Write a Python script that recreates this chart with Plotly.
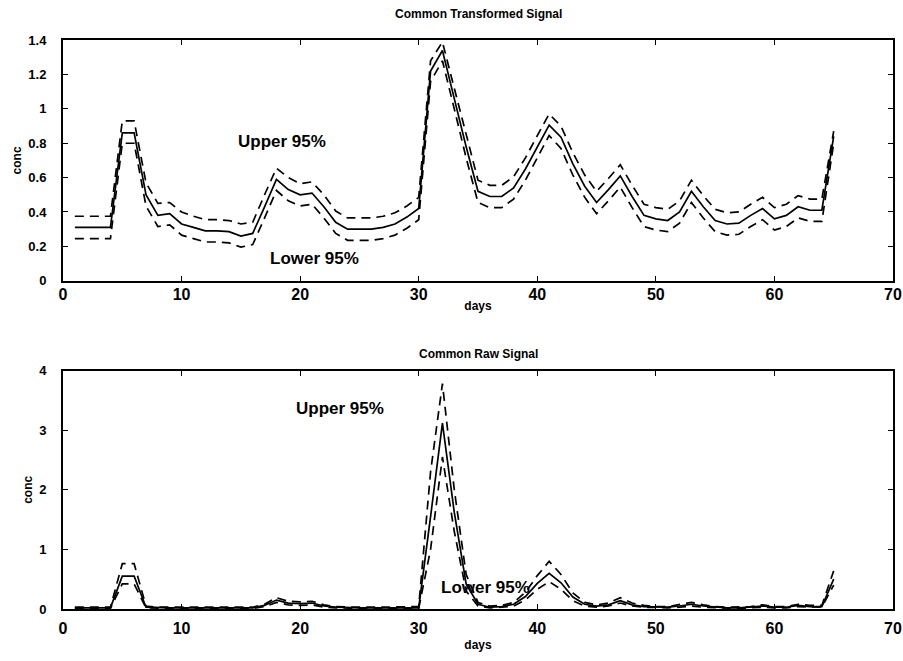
import plotly.graph_objects as go

# Sampling days
days = list(range(1, 66))

# Common transformed signal: estimate and 95% bounds
trans_mid = [0.31, 0.31, 0.31, 0.31, 0.86, 0.86, 0.50, 0.38, 0.39, 0.33,
             0.31, 0.29, 0.29, 0.285, 0.26, 0.275, 0.43, 0.59, 0.53, 0.50,
             0.51, 0.43, 0.34, 0.30, 0.30, 0.30, 0.31, 0.33, 0.37, 0.42,
             1.22, 1.34, 1.06, 0.78, 0.52, 0.49, 0.49, 0.54, 0.65, 0.78,
             0.905, 0.835, 0.68, 0.55, 0.455, 0.53, 0.61, 0.49, 0.38, 0.36,
             0.35, 0.40, 0.52, 0.43, 0.35, 0.33, 0.335, 0.38, 0.42, 0.36,
             0.38, 0.43, 0.41, 0.41, 0.84]
trans_up = [0.375, 0.375, 0.375, 0.375, 0.93, 0.93, 0.57, 0.45, 0.455, 0.40,
            0.375, 0.355, 0.355, 0.35, 0.33, 0.34, 0.50, 0.655, 0.60, 0.565,
            0.575, 0.50, 0.405, 0.365, 0.365, 0.365, 0.375, 0.395, 0.435, 0.485,
            1.28, 1.39, 1.12, 0.845, 0.585, 0.555, 0.555, 0.605, 0.715, 0.845,
            0.97, 0.90, 0.745, 0.615, 0.52, 0.595, 0.675, 0.555, 0.445, 0.425,
            0.415, 0.465, 0.585, 0.495, 0.415, 0.395, 0.40, 0.445, 0.485, 0.425,
            0.445, 0.495, 0.475, 0.475, 0.87]
trans_lo = [0.245, 0.245, 0.245, 0.245, 0.80, 0.80, 0.435, 0.315, 0.325, 0.265,
            0.245, 0.225, 0.225, 0.22, 0.195, 0.21, 0.365, 0.525, 0.465, 0.435,
            0.445, 0.365, 0.275, 0.235, 0.235, 0.235, 0.245, 0.265, 0.305, 0.355,
            1.16, 1.28, 1.00, 0.715, 0.455, 0.425, 0.425, 0.475, 0.585, 0.715,
            0.845, 0.77, 0.615, 0.485, 0.39, 0.465, 0.545, 0.425, 0.315, 0.295,
            0.285, 0.335, 0.455, 0.365, 0.285, 0.265, 0.27, 0.315, 0.355, 0.295,
            0.315, 0.365, 0.345, 0.345, 0.80]

# Common raw signal: estimate and 95% bounds
raw_mid = [0.02, 0.02, 0.02, 0.02, 0.55, 0.55, 0.03, 0.02, 0.02, 0.02,
           0.02, 0.02, 0.02, 0.02, 0.02, 0.02, 0.06, 0.15, 0.10, 0.09,
           0.10, 0.05, 0.03, 0.02, 0.02, 0.02, 0.02, 0.02, 0.02, 0.02,
           1.55, 3.12, 1.62, 0.42, 0.08, 0.03, 0.04, 0.08, 0.21, 0.43,
           0.60, 0.44, 0.20, 0.08, 0.05, 0.07, 0.14, 0.07, 0.04, 0.03,
           0.03, 0.05, 0.08, 0.05, 0.03, 0.02, 0.02, 0.03, 0.05, 0.03,
           0.03, 0.06, 0.04, 0.04, 0.50]
raw_up = [0.03, 0.03, 0.03, 0.03, 0.76, 0.76, 0.05, 0.03, 0.03, 0.03,
          0.03, 0.03, 0.03, 0.03, 0.03, 0.03, 0.08, 0.19, 0.13, 0.12,
          0.13, 0.07, 0.04, 0.03, 0.03, 0.03, 0.03, 0.03, 0.03, 0.04,
          2.30, 3.78, 2.00, 0.58, 0.11, 0.05, 0.06, 0.11, 0.28, 0.56,
          0.80, 0.58, 0.27, 0.11, 0.07, 0.10, 0.19, 0.10, 0.06, 0.04,
          0.04, 0.07, 0.11, 0.07, 0.04, 0.03, 0.03, 0.04, 0.07, 0.04,
          0.04, 0.08, 0.06, 0.06, 0.64]
raw_lo = [0.01, 0.01, 0.01, 0.01, 0.42, 0.42, 0.02, 0.01, 0.01, 0.01,
          0.01, 0.01, 0.01, 0.01, 0.01, 0.01, 0.04, 0.11, 0.07, 0.06,
          0.07, 0.03, 0.02, 0.01, 0.01, 0.01, 0.01, 0.01, 0.01, 0.01,
          1.00, 2.55, 1.30, 0.30, 0.05, 0.02, 0.03, 0.05, 0.15, 0.33,
          0.46, 0.33, 0.14, 0.05, 0.03, 0.05, 0.10, 0.05, 0.03, 0.02,
          0.02, 0.03, 0.05, 0.03, 0.02, 0.01, 0.01, 0.02, 0.03, 0.02,
          0.02, 0.04, 0.03, 0.03, 0.40]

trans_yticks = [0, 0.2, 0.4, 0.6, 0.8, 1.0, 1.2, 1.4]
trans_ylabels = ["0", "0.2", "0.4", "0.6", "0.8", "1", "1.2", "1.4"]
raw_yticks = [0, 1, 2, 3, 4]
x_ticks = [0, 10, 20, 30, 40, 50, 60, 70]

FONT = "Liberation Sans, Arial, sans-serif"
solid = dict(color="black", width=1.7)
dashed = dict(color="black", width=1.7, dash="9px,6px")

fig = go.Figure()
for ys, ln in [(trans_up, dashed), (trans_lo, dashed), (trans_mid, solid)]:
    fig.add_trace(go.Scatter(x=days, y=ys, mode="lines", line=ln,
                             xaxis="x", yaxis="y", showlegend=False))
for ys, ln in [(raw_up, dashed), (raw_lo, dashed), (raw_mid, solid)]:
    fig.add_trace(go.Scatter(x=days, y=ys, mode="lines", line=ln,
                             xaxis="x2", yaxis="y2", showlegend=False))


def bold(size):
    return dict(family=FONT, size=size, color="black", weight="bold")


axis_common = dict(
    showline=True, linecolor="black", linewidth=2, mirror="ticks",
    ticks="inside", ticklen=5, tickwidth=1.2, tickcolor="black",
    showgrid=False, zeroline=False,
)
x_common = dict(axis_common, domain=[0, 1], range=[0, 70], tickvals=x_ticks,
                tickfont=bold(16))
y_common = dict(axis_common, tickfont=bold(13), ticklabelstandoff=12,
                title=dict(text="conc", standoff=4, font=bold(12)))

fig.update_layout(
    width=903, height=661,
    margin=dict(l=63, r=10, t=0, b=0),
    paper_bgcolor="white", plot_bgcolor="white",
    xaxis=dict(x_common, anchor="y", ticklabelstandoff=-2,
               title=dict(text="days", standoff=0, font=bold(12))),
    yaxis=dict(y_common, domain=[0.5764, 0.9486], range=[0, 1.4],
               tickvals=trans_yticks, ticktext=trans_ylabels, anchor="x"),
    xaxis2=dict(x_common, anchor="y2", ticklabelstandoff=4,
                title=dict(text="days", standoff=4, font=bold(12))),
    yaxis2=dict(y_common, domain=[0.0681, 0.4372], range=[0, 4],
                tickvals=raw_yticks, anchor="x2"),
)

fig.add_annotation(text="Common Transformed Signal", xref="x", yref="paper",
                   x=35, y=0.9486, yanchor="bottom", yshift=17,
                   showarrow=False, font=bold(12))
fig.add_annotation(text="Common Raw Signal", xref="x2", yref="paper",
                   x=35, y=0.4372, yanchor="bottom", yshift=8,
                   showarrow=False, font=bold(12))
label_font = bold(17)
fig.add_annotation(text="Upper 95%", xref="x", yref="y", x=18.5, y=0.81,
                   showarrow=False, font=label_font)
fig.add_annotation(text="Lower 95%", xref="x", yref="y", x=21.2, y=0.13,
                   showarrow=False, font=label_font)
fig.add_annotation(text="Upper 95%", xref="x2", yref="y2", x=23.4, y=3.36,
                   showarrow=False, font=label_font)
fig.add_annotation(text="Lower 95%", xref="x2", yref="y2", x=35.6, y=0.36,
                   showarrow=False, font=label_font)

fig.write_html("out.html")
